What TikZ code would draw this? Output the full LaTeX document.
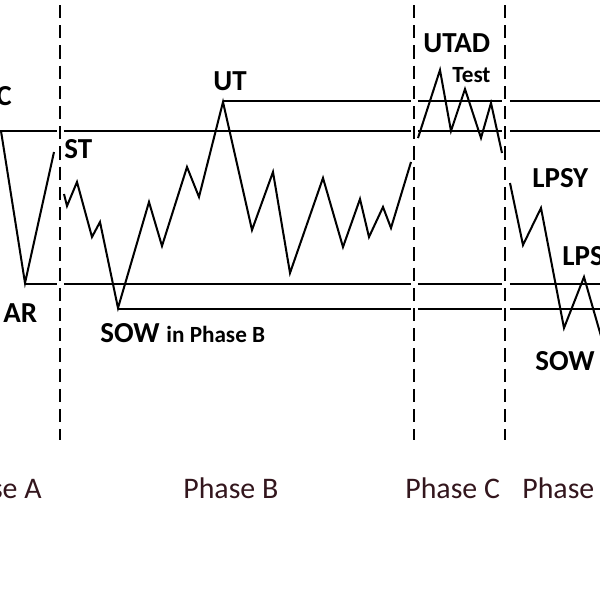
\documentclass[tikz,border=0pt]{standalone}
\usepackage{fontspec}
\setmainfont{Carlito}
\usepackage{tikz}

\definecolor{phasered}{HTML}{33161D}

\begin{document}
\begin{tikzpicture}[x=0.02cm,y=-0.02cm,
    price/.style={line width=1.15pt,line join=miter},
    level/.style={line width=1.05pt},
    phaseline/.style={line width=1.1pt,dash pattern=on 7.5pt off 4pt},
    lbl/.style={inner sep=0pt,font=\fontsize{16.5}{20}\selectfont\bfseries},
    smalllbl/.style={inner sep=0pt,font=\fontsize{13.2}{16}\selectfont\bfseries},
    phase/.style={inner sep=0pt,text=phasered,font=\fontsize{17}{20}\selectfont}]
    \clip (0,0) rectangle (600,600);
    \fill[white] (0,0) rectangle (600,600);

    % phase separators
    \foreach \x in {60,414,505}
      \draw[phaseline] (\x,5) -- (\x,440);

    % range levels, broken at the separators
    \draw[level] (0,131) -- (57,131) (64,131) -- (411,131);
    \draw[level] (25,284) -- (57,284) (64,284) -- (411,284);
    \draw[level] (223,101) -- (411,101);
    \draw[level] (118,309) -- (411,309);
    \foreach \y in {101,131,284,309}
      \draw[level] (418,\y) -- (502,\y) (510,\y) -- (600,\y);

    % price swings
    \draw[price] (1,131) -- (25,283) -- (54,152);
    \draw[price] (64,194) -- (67,206) -- (77,182) -- (92,237) -- (100,222)
      -- (118,308) -- (149,202) -- (162,246) -- (187,167) -- (199,197)
      -- (223,102) -- (252,230) -- (273,172) -- (290,273) -- (323,178)
      -- (343,247) -- (360,199) -- (369,237) -- (383,207) -- (391,228)
      -- (411,162);
    \draw[price] (418,138) -- (440,70) -- (451,131) -- (465,89) -- (481,138)
      -- (491,103) -- (502,153);
    \draw[price] (510,183) -- (523,245) -- (541,208) -- (564,328) -- (584,277)
      -- (601,336);

    % event labels
    \node[lbl,anchor=base east] (sc) at (12,105) {SC};
    \node[lbl,anchor=base west] (ar) at (3,322) {AR};
    \node[lbl,anchor=base west] (st) at (64,158) {ST};
    \node[lbl,anchor=base west] (ut) at (213,90) {UT};
    \node[lbl,anchor=base west] (sowb) at (100,342) {SOW};
    \node[smalllbl,anchor=base west] (inb) at (166,342) {in Phase B};
    \node[lbl,anchor=base west] (utad) at (423,52) {UTAD};
    \node[smalllbl,anchor=base west] (test) at (452,82) {Test};
    \node[lbl,anchor=base west] (lpsy) at (532,187) {LPSY};
    \node[lbl,anchor=base west] (lps) at (562,265) {LPS};
    \node[lbl,anchor=base west] (sowd) at (535,370) {SOW};

    % phase names
    \node[phase,anchor=base east] (pa) at (42,498) {Phase A};
    \node[phase,anchor=base west] (pb) at (183,498) {Phase B};
    \node[phase,anchor=base west] (pc) at (405,498) {Phase C};
    \node[phase,anchor=base west] (pd) at (522,498) {Phase D};
\end{tikzpicture}
\end{document}
